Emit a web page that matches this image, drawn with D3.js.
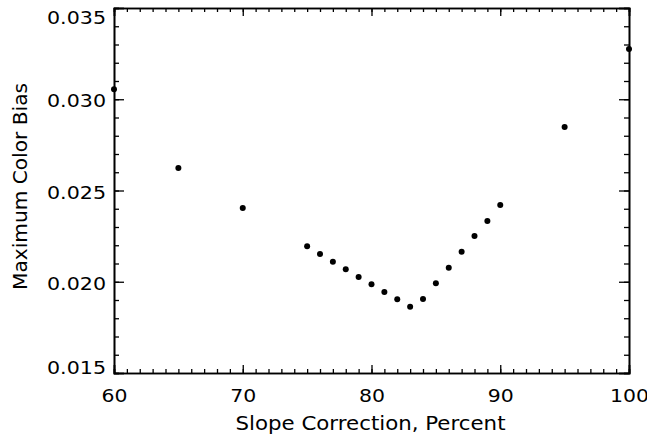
<!DOCTYPE html>
<html>
<head>
<meta charset="utf-8">
<script src="https://cdn.jsdelivr.net/npm/d3@7"></script>
<style>
  body { margin: 0; background: #fff; }
  text { font-family: "DejaVu Sans", sans-serif; fill: #000; }
</style>
</head>
<body>
<svg id="chart" width="647" height="436"></svg>
<script>
// slope correction (percent) vs maximum color bias
var slopes = [60, 65, 70, 75, 76, 77, 78, 79, 80, 81, 82, 83, 84, 85, 86, 87, 88, 89, 90, 95, 100];
var bias = [0.03055, 0.02623, 0.02404, 0.02194, 0.02152, 0.02110, 0.02068, 0.02026, 0.01986, 0.01944,
            0.01904, 0.01863, 0.01906, 0.01992, 0.02077, 0.02165, 0.02251, 0.02333, 0.02421, 0.02848, 0.03275];
var xTicks = [60, 70, 80, 90, 100];
var yTicks = [0.015, 0.020, 0.025, 0.030, 0.035];

var svg = d3.select("#chart");
var pLeft = 114, pRight = 629, pTop = 8, pBottom = 373;

var x = d3.scaleLinear().domain([60, 100]).range([pLeft, pRight]);
var y = d3.scaleLinear().domain([0.015, 0.035]).range([pBottom, pTop]);

var xMinor = d3.range(60, 101, 1);
var yMinor = d3.range(0, 21).map(function(i) { return 0.015 + i * 0.001; });

// wide glyphs like the old plotting font
function stretch(sel, perChar) {
  sel.attr("textLength", function() { return this.textContent.length * perChar; })
     .attr("lengthAdjust", "spacingAndGlyphs");
}

var g = svg.append("g");

// bottom / top axes
g.append("g").attr("transform", "translate(0," + pBottom + ")")
  .call(d3.axisBottom(x).tickValues(xMinor).tickSize(-4).tickFormat(""));
g.append("g").attr("transform", "translate(0," + pBottom + ")")
  .call(d3.axisBottom(x).tickValues(xTicks).tickSize(-8).tickPadding(16).tickFormat(d3.format("d")))
  .selectAll("text").attr("font-size", 18).attr("dy", "0.71em").call(stretch, 13);
g.append("g").attr("transform", "translate(0," + pTop + ")")
  .call(d3.axisTop(x).tickValues(xMinor).tickSize(-4).tickFormat(""));
g.append("g").attr("transform", "translate(0," + pTop + ")")
  .call(d3.axisTop(x).tickValues(xTicks).tickSize(-8).tickFormat(""));

// left / right axes
g.append("g").attr("transform", "translate(" + pLeft + ",0)")
  .call(d3.axisLeft(y).tickValues(yMinor).tickSize(-5).tickFormat(""));
var yLab = g.append("g").attr("transform", "translate(" + pLeft + ",0)")
  .call(d3.axisLeft(y).tickValues(yTicks).tickSize(-10).tickPadding(8).tickFormat(d3.format(".3f")));
yLab.selectAll("text").attr("font-size", 18).attr("dy", "0.42em").call(stretch, 11.8)
  .attr("y", function(d) { return d === 0.035 ? 8 : d === 0.015 ? -7 : 0; });
g.append("g").attr("transform", "translate(" + pRight + ",0)")
  .call(d3.axisRight(y).tickValues(yMinor).tickSize(-5).tickFormat(""));
g.append("g").attr("transform", "translate(" + pRight + ",0)")
  .call(d3.axisRight(y).tickValues(yTicks).tickSize(-10).tickFormat(""));

g.selectAll(".domain").attr("stroke-width", 1.6);
g.selectAll(".tick line").attr("stroke-width", 1.3);

// axis titles
svg.append("text")
  .attr("x", (pLeft + pRight) / 2 - 1).attr("y", 430)
  .attr("text-anchor", "middle").attr("font-size", 19)
  .attr("textLength", 270).attr("lengthAdjust", "spacingAndGlyphs")
  .text("Slope Correction, Percent");

svg.append("text")
  .attr("transform", "translate(27,186.5) rotate(-90)")
  .attr("text-anchor", "middle").attr("font-size", 19)
  .attr("textLength", 207).attr("lengthAdjust", "spacingAndGlyphs")
  .text("Maximum Color Bias");

// points
svg.append("g").selectAll("circle")
  .data(slopes)
  .enter()
  .append("circle")
  .attr("cx", function(d) { return x(d); })
  .attr("cy", function(d, i) { return y(bias[i]); })
  .attr("r", 3)
  .attr("fill", "#000");
</script>
</body>
</html>
